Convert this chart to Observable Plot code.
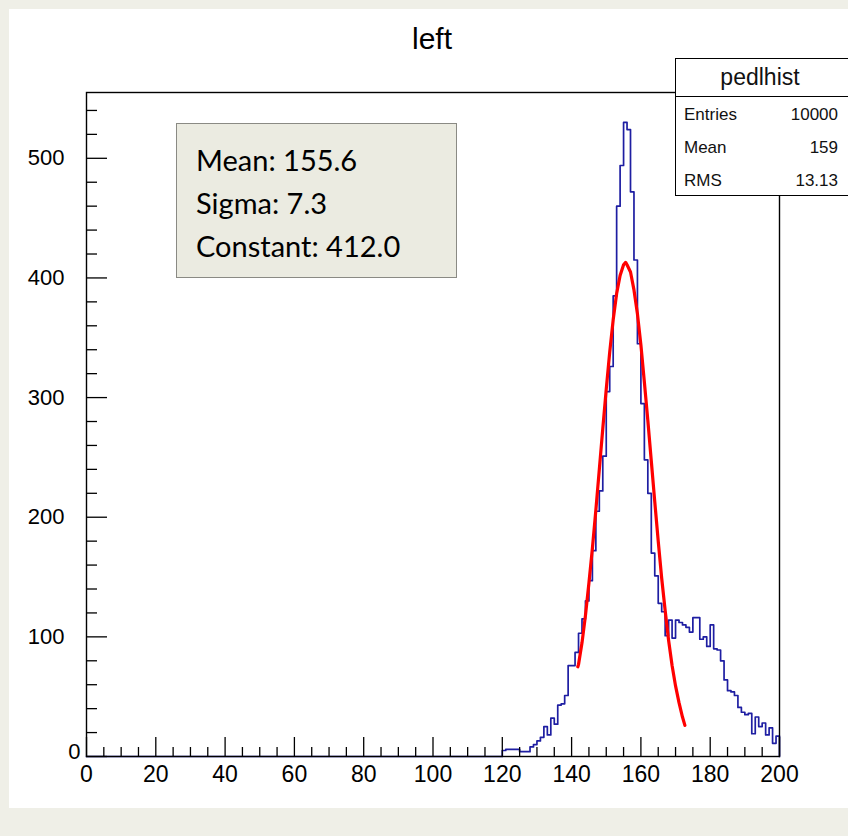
<!DOCTYPE html>
<html>
<head>
<meta charset="utf-8">
<script src="https://cdn.jsdelivr.net/npm/d3@7"></script>
<script src="https://cdn.jsdelivr.net/npm/@observablehq/plot@0.6"></script>
<style>
  html, body { margin: 0; padding: 0; background: #efefe7; }
  #page { position: relative; width: 848px; height: 836px; overflow: hidden; background: #efefe7; }
  #panel { position: absolute; left: 9px; top: 9px; width: 839px; height: 799px; background: #ffffff; }
  #chart { position: absolute; left: 0; top: 0; }
  #title { position: absolute; left: 0; width: 864px; top: 22px; text-align: center;
           font-family: "Liberation Sans", Arial, sans-serif; font-size: 30px; color: #000; }
  #fitbox { position: absolute; left: 176px; top: 123px; width: 281px; height: 155px;
            background: #ebebe1; border: 1px solid #8a8a84; box-sizing: border-box;
            font-family: Lato, "Open Sans", sans-serif; font-size: 29px; color: #000;
            padding: 14px 0 0 19px; line-height: 43px; }
  #stats { position: absolute; left: 675px; top: 58px; width: 180px; height: 138px;
           background: #fff; border: 1px solid #000; box-sizing: border-box;
           font-family: "Liberation Sans", Arial, sans-serif; color: #111; }
  #stats .head { height: 37px; border-bottom: 1px solid #000; text-align: center;
                 font-size: 23px; line-height: 37px; padding-right: 10px; }
  #stats .row { position: relative; height: 33px; font-size: 17px; line-height: 35px; }
  #stats .row .k { position: absolute; left: 8px; }
  #stats .row .v { position: absolute; right: 16px; }
</style>
</head>
<body>
<div id="page">
  <div id="panel"></div>
  <div id="chart"></div>
  <div id="title"></div>
  <div id="fitbox"></div>
  <div id="stats"></div>
</div>
<script>
// ---- Data ----
const histTitle = "left";
const histName = "pedlhist";
const binLow = 0;          // histogram range low edge
const binHigh = 200;       // histogram range high edge
const firstFilledBin = 117; // bins below this are empty
// counts of 1-unit bins starting at firstFilledBin (117 .. 199)
const counts = [
  0, 0, 0, 5, 6, 6, 6, 6, 4, 4,            // 117-126
  4, 8, 10, 13, 16, 25, 18, 32, 27, 43,    // 127-136
  44, 51, 76, 76, 87, 103, 115, 130, 147, 172, // 137-146
  205, 222, 251, 305, 326, 385, 460, 494, 530, 524, // 147-156
  472, 415, 345, 295, 248, 220, 170, 151, 128, 121, // 157-166
  101, 114, 99, 114, 112, 110, 108, 104, 116, 116,  // 167-176
  98, 100, 92, 110, 90, 89, 80, 64, 55, 54,         // 177-186
  51, 41, 37, 35, 36, 19, 33, 25, 28, 18,           // 187-196
  24, 11, 17                                         // 197-199
];
// Gaussian fit curve
const fitX = [141.8, 142, 143, 144, 145, 146, 147, 148, 149, 150, 151, 152, 153, 154, 155, 155.6,
              156, 157, 158, 159, 160, 161, 162, 163, 164, 165, 166, 167, 168, 169, 170, 171, 172, 172.7];
const fitY = [75, 77, 95, 118, 145, 174, 206, 240, 274, 307, 338, 365, 387, 402, 411, 413,
              411, 405, 390, 370, 344, 313, 281, 247, 213, 180, 149, 122, 97, 76, 59, 45, 33, 26];
const fitLabels = ["Mean: 155.6", "Sigma: 7.3", "Constant: 412.0"];
const statNames = ["Entries", "Mean", "RMS"];
const statValues = ["10000", "159", "13.13"];
const xMajor = [0, 20, 40, 60, 80, 100, 120, 140, 160, 180, 200];
const yMajor = [0, 100, 200, 300, 400, 500];

// ---- Build tables ----
const bins = d3.range(binLow, binHigh).map(b => ({
  x: b,
  y: b < firstFilledBin ? 0 : counts[b - firstFilledBin]
}));
const stepPts = [...bins, {x: binHigh, y: 0}];
const fit = fitX.map((x, i) => ({x, y: fitY[i]}));
const xMinor = d3.range(binLow, binHigh + 1, 5).filter(v => v % 20 !== 0);
const yMinor = d3.range(0, 560, 20).filter(v => v % 100 !== 0);

const font = "Liberation Sans, Arial, sans-serif";

const chart = Plot.plot({
  width: 848,
  height: 836,
  marginLeft: 86,
  marginRight: 69,
  marginTop: 92,
  marginBottom: 80,
  style: {background: "transparent", fontFamily: font, color: "#000"},
  x: {domain: [binLow, binHigh]},
  y: {domain: [0, 555]},
  marks: [
    Plot.line(stepPts, {x: "x", y: "y", curve: "step-after", stroke: "#1e1ea2", strokeWidth: 1.7}),
    Plot.line(fit, {x: "x", y: "y", stroke: "#ff0000", strokeWidth: 3.2}),
    // inward major and minor ticks
    Plot.axisX({ticks: xMajor, tickSize: -19, label: null, text: null, anchor: "bottom", strokeWidth: 1.3}),
    Plot.axisX({ticks: xMinor, tickSize: -9, label: null, text: null, anchor: "bottom", strokeWidth: 1.3}),
    Plot.axisY({ticks: yMajor, tickSize: -21, label: null, text: null, anchor: "left", strokeWidth: 1.3}),
    Plot.axisY({ticks: yMinor, tickSize: -11, label: null, text: null, anchor: "left", strokeWidth: 1.3}),
    // tick labels
    Plot.axisX({ticks: xMajor, tickSize: 0, tickPadding: 9, label: null, anchor: "bottom", fontSize: 23}),
    Plot.axisY({ticks: yMajor.filter(v => v > 0), tickSize: 0, tickPadding: 22, label: null, anchor: "left", fontSize: 22}),
    Plot.axisY({ticks: [0], tickSize: 0, tickPadding: 6, dy: -5, label: null, anchor: "left", fontSize: 22}),
    Plot.frame({stroke: "#000", strokeWidth: 1.4})
  ]
});
document.getElementById("chart").appendChild(chart);

document.getElementById("title").textContent = histTitle;
document.getElementById("fitbox").innerHTML = fitLabels.map(t => `<div>${t}</div>`).join("");
document.getElementById("stats").innerHTML =
  `<div class="head">${histName}</div>` +
  statNames.map((n, i) => `<div class="row"><span class="k">${n}</span><span class="v">${statValues[i]}</span></div>`).join("");
</script>
</body>
</html>
